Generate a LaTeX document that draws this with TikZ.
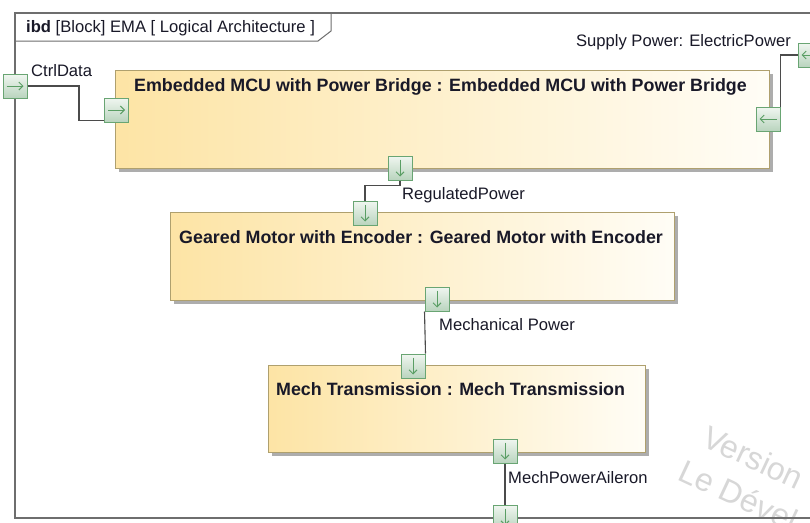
\documentclass[tikz,border=0pt]{standalone}
\usepackage{fontspec}
\setmainfont{Liberation Sans}
\usetikzlibrary{calc,shadows,arrows.meta}
\definecolor{framec}{RGB}{110,110,110}
\definecolor{blockborder}{RGB}{175,160,110}
\definecolor{blockleft}{RGB}{253,228,165}
\definecolor{blockright}{RGB}{255,253,246}
\definecolor{portborder}{RGB}{105,165,115}
\definecolor{porttop}{RGB}{240,246,240}
\definecolor{portbot}{RGB}{185,212,190}
\definecolor{portarrowc}{RGB}{90,158,100}
\definecolor{linec}{RGB}{75,75,75}
\definecolor{txtc}{RGB}{25,25,40}
\definecolor{wmark}{RGB}{215,215,215}
\tikzset{
  frameline/.style={draw=framec, line width=1.3pt},
  block/.style={draw=blockborder, line width=1pt, left color=blockleft, right color=blockright,
    inner sep=0pt, anchor=north west,
    drop shadow={shadow xshift=3.5pt, shadow yshift=-3.5pt, fill=black!32, opacity=1}},
  port/.style={draw=portborder, line width=1pt, top color=porttop, bottom color=portbot,
    minimum size=24pt, inner sep=0pt},
  portarrow/.style={draw=portarrowc, line width=1pt, -{Straight Barb[length=4pt,width=8pt]}},
  conn/.style={draw=linec, line width=1.1pt},
  btitle/.style={font=\fontsize{17.85}{20}\selectfont\bfseries, text=txtc, inner sep=0pt, anchor=base west},
  lbl/.style={font=\fontsize{16.6}{19}\selectfont, text=txtc, inner sep=0pt},
  wm/.style={font=\fontsize{32}{36}\selectfont, text=wmark, inner sep=0pt, anchor=base west, rotate=-25}
}
\begin{document}
\begin{tikzpicture}[x=1pt,y=-1pt]
\useasboundingbox (0,0) rectangle (810,522);
\clip (0,0) rectangle (810,522);
\fill[white] (0,0) rectangle (810,522);

% watermark
\node[wm] (wm1) at (700,445) {Version};
\node[wm] (wm2) at (676,479) {Le Dével};

% frame
\draw[frameline] (15,13) rectangle (813,518);
\draw[frameline, line width=1pt] (15,41) -- (318,41) -- (331,31) -- (331,13);
\node[lbl, anchor=base west] (title) at (26,32) {\textbf{ibd} [Block] EMA [ Logical Architecture ]};

% blocks
\node[block, minimum width=654pt, minimum height=98pt] (mcu) at (115,70) {};
\node[block, minimum width=504pt, minimum height=88pt] (gear) at (170,212) {};
\node[block, minimum width=377pt, minimum height=87pt] (mech) at (268,365) {};

\node[btitle] (mcut) at (134,91) {Embedded MCU with Power Bridge : Embedded MCU with Power Bridge};
\node[btitle] (geart) at (179,243) {Geared Motor with Encoder : Geared Motor with Encoder};
\node[btitle] (mecht) at (276,395) {Mech Transmission : Mech Transmission};

% ports
\node[port] (ctrl) at (15,86) {};
\node[port] (mcuin) at (116.5,110) {};
\node[port] (supply) at (810,55) {};
\node[port] (mcuout) at (768,119) {};
\node[port] (mcubot) at (400,168) {};
\node[port] (geartop) at (365,213) {};
\node[port] (gearbot) at (437,299) {};
\node[port] (mechtop) at (413,366) {};
\node[port] (mechbot) at (505,451) {};
\node[port] (ail) at (505,517) {};

% port arrows
\foreach \p in {ctrl,mcuin}{
  \draw[portarrow] ($(\p.center)+(-8.5,0)$) -- ($(\p.center)+(8.5,0)$);
}
\foreach \p in {supply,mcuout}{
  \draw[portarrow] ($(\p.center)+(8.5,0)$) -- ($(\p.center)+(-8.5,0)$);
}
\foreach \p in {mcubot,geartop,gearbot,mechtop,mechbot,ail}{
  \draw[portarrow] ($(\p.center)+(0,-8.5)$) -- ($(\p.center)+(0,8.5)$);
}

% connectors
\coordinate (c1) at (79,86);
\draw[conn] (ctrl.east) -- (c1) |- ($(mcuin.south west)+(0,-2)$);
\draw[conn] (supply.west) -| (mcuout.north east);
\draw[conn] (mcubot.south) -- ++(0,5) -| (geartop.north);
\draw[conn] (gearbot.south west) -- (mechtop.north east);
\draw[conn] (mechbot.south) -- (ail.north);

% labels
\node[lbl, anchor=base west] (lctrl) at (31,76) {CtrlData};
\node[lbl, anchor=base east] (lsup) at (791,46) {Supply Power: ElectricPower};
\node[lbl, anchor=base west] (lreg) at (402,199) {RegulatedPower};
\node[lbl, anchor=base west] (lmech) at (439,330) {Mechanical Power};
\node[lbl, anchor=base west] (lail) at (508,483) {MechPowerAileron};
\end{tikzpicture}
\end{document}
